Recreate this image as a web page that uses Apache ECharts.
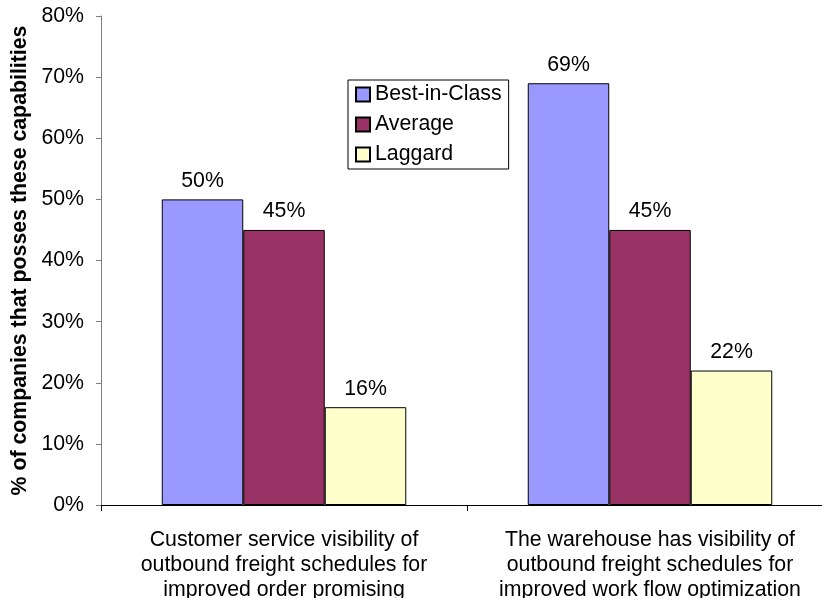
<!DOCTYPE html>
<html>
<head>
<meta charset="utf-8">
<script src="https://cdn.jsdelivr.net/npm/echarts@6/dist/echarts.min.js"></script>
<style>
html,body{margin:0;padding:0;background:#fff;}
#chart{width:822px;height:598px;}
</style>
</head>
<body>
<div id="chart"></div>
<script>
var categories = [
  "Customer service visibility of\noutbound freight schedules for\nimproved order promising",
  "The warehouse has visibility of\noutbound freight schedules for\nimproved work flow optimization"
];
var seriesNames = ["Best-in-Class", "Average", "Laggard"];
var bestInClass = [50, 69];
var average = [45, 45];
var laggard = [16, 22];
var colors = ["#9999FF", "#993366", "#FFFFCC"];
var yTicks = { min: 0, max: 80, interval: 10 };
var yTitle = "% of companies that posses these capabilities";

var FONT = "'Liberation Sans', Arial, sans-serif";
var FS = 21.3;

function mkSeries(name, data, color) {
  return {
    name: name,
    type: 'bar',
    data: data,
    barWidth: 81.5,
    barGap: '0%',
    itemStyle: { color: color, borderColor: '#000', borderWidth: 1 },
    label: {
      show: true, position: 'top', distance: 8,
      formatter: '{c}%', color: '#000', fontFamily: FONT, fontSize: FS
    }
  };
}

var chart = echarts.init(document.getElementById('chart'));
chart.setOption({
  animation: false,
  backgroundColor: '#fff',
  grid: { left: 101, top: 16, bottom: 93, right: -11, containLabel: false, outerBoundsMode: 'none' },
  legend: {
    orient: 'vertical',
    left: 348, top: 80,
    data: seriesNames,
    icon: 'rect',
    itemWidth: 14, itemHeight: 14,
    itemGap: 9,
    padding: [4, 7, 4, 7],
    borderColor: '#000', borderWidth: 1,
    backgroundColor: '#fff',
    textStyle: { fontFamily: FONT, fontSize: FS, color: '#000' }
  },
  xAxis: {
    type: 'category',
    data: categories,
    axisLine: { lineStyle: { color: '#000', width: 1 } },
    axisTick: { show: true, length: 6, lineStyle: { color: '#000' } },
    axisLabel: {
      interval: 0, margin: 22, color: '#000', fontFamily: FONT,
      fontSize: FS, lineHeight: 25.3, align: 'center'
    }
  },
  yAxis: {
    type: 'value',
    min: yTicks.min, max: yTicks.max, interval: yTicks.interval,
    name: yTitle,
    nameLocation: 'middle',
    nameGap: 66,
    nameTextStyle: { fontFamily: FONT, fontSize: FS, fontWeight: 'bold', color: '#000' },
    axisLine: { show: true, lineStyle: { color: '#808080', width: 1 } },
    axisTick: { show: true, length: 5, lineStyle: { color: '#808080' } },
    splitLine: { show: false },
    axisLabel: { formatter: '{value}%', margin: 17, color: '#000', fontFamily: FONT, fontSize: FS }
  },
  series: [
    mkSeries(seriesNames[0], bestInClass, colors[0]),
    mkSeries(seriesNames[1], average, colors[1]),
    mkSeries(seriesNames[2], laggard, colors[2])
  ]
});
</script>
</body>
</html>
